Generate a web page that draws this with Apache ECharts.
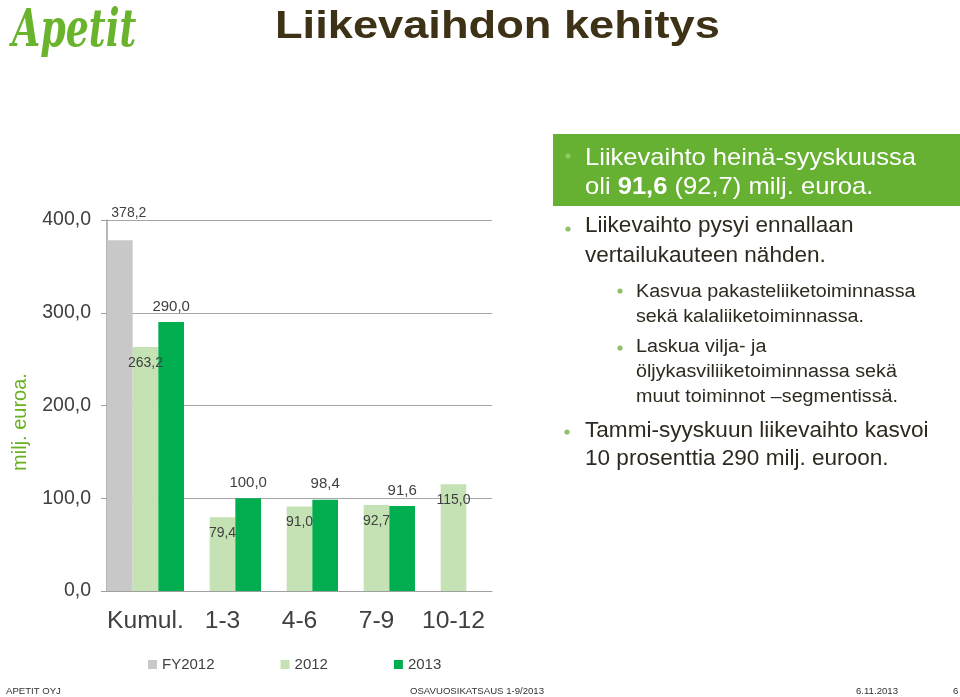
<!DOCTYPE html>
<html><head><meta charset="utf-8">
<script src="https://cdn.jsdelivr.net/npm/echarts@6/dist/echarts.min.js"></script>
<style>html,body{margin:0;padding:0;background:#fff}#c{width:960px;height:697px}</style>
</head><body><div id="c"></div>
<script>
// ---- data ----
const categories = ['Kumul.', '1-3', '4-6', '7-9', '10-12'];
const seriesNames = ['FY2012', '2012', '2013'];
const fy2012 = [378.2, null, null, null, null];
const y2012 = [263.2, 79.4, 91.0, 92.7, 115.0];
const y2013 = [290.0, 100.0, 98.4, 91.6, null];
const yMin = 0, yMax = 400, yStep = 100;

const titleText = 'Liikevaihdon kehitys';
const axisName = 'milj. euroa.';
const boxLines = ['Liikevaihto heinä-syyskuussa', ['oli ', '91,6', ' (92,7) milj. euroa.']];
const bullet2 = ['Liikevaihto pysyi ennallaan', 'vertailukauteen nähden.'];
const sub1 = ['Kasvua pakasteliiketoiminnassa', 'sekä kalaliiketoiminnassa.'];
const sub2 = ['Laskua vilja- ja', 'öljykasviliiketoiminnassa sekä', 'muut toiminnot –segmentissä.'];
const bullet3 = ['Tammi-syyskuun liikevaihto kasvoi', '10 prosenttia 290 milj. euroon.'];
const footer = ['APETIT OYJ', 'OSAVUOSIKATSAUS 1-9/2013', '6.11.2013', '6'];

// ---- styles ----
const F = 'Liberation Sans, Arial, sans-serif';
const C_GRAY = '#c8c8c8', C_LIGHT = '#c4e2b3', C_GREEN = '#00ae50';
const C_TXT = '#2e2a1f', C_LBL = '#404040';
const fmt = v => (v == null ? '' : Number(v).toFixed(1).replace('.', ','));

const chart = echarts.init(document.getElementById('c'));

function txt(x, y, text, size, opt) {
  opt = opt || {};
  return {
    type: 'text', x: x, y: y, scaleX: opt.sx || 1, rotation: opt.rot || 0,
    style: {
      text: text, fontFamily: opt.font || F, fontSize: size, fontWeight: opt.bold ? 'bold' : 'normal',
      fontStyle: opt.italic ? 'italic' : 'normal',
      fill: opt.color || C_TXT, align: opt.align || 'left', verticalAlign: 'middle',
      rich: opt.rich
    }
  };
}
function dot(x, y, color) {
  return { type: 'circle', shape: { cx: x, cy: y, r: 2.6 }, style: { fill: color || '#8dc26a' } };
}

const graphics = [];
// logo
graphics.push(txt(12, 32, 'Apetit', 52, { italic: true, bold: true, color: '#6ab42d', sx: 0.7, font: 'DejaVu Serif, Liberation Serif, serif' }));
// title
graphics.push(txt(275, 28, titleText, 38, { bold: true, color: '#3e3216', sx: 1.19 }));
// y-axis name
graphics.push(txt(20, 422, axisName, 20, { color: '#6ab023', align: 'center', rot: Math.PI / 2 }));
// green box
graphics.push({ type: 'rect', shape: { x: 553, y: 134, width: 407, height: 72 }, style: { fill: '#66b032' } });
graphics.push(dot(568, 156, '#8ccc5c'));
const BS = 24, BX = 1.065;
graphics.push(txt(585, 158.5, boxLines[0], BS, { color: '#fff', sx: BX }));
graphics.push(txt(585, 187, '{n|' + boxLines[1][0] + '}{b|' + boxLines[1][1] + '}{n|' + boxLines[1][2] + '}', BS, {
  color: '#fff', sx: BX,
  rich: { n: { fontFamily: F, fontSize: BS, fill: '#fff' }, b: { fontFamily: F, fontSize: BS, fontWeight: 'bold', fill: '#fff' } }
}));
// bullet 2
const MS = 21.2, MX = 1.065;
graphics.push(dot(568, 229));
bullet2.forEach((s, i) => graphics.push(txt(585, 225.7 + i * 30, s, MS, { sx: MX })));
// sub bullets
const SS = 18.8, SX = 1.05;
graphics.push(dot(620, 291));
sub1.forEach((s, i) => graphics.push(txt(636, 292 + i * 25, s, SS, { sx: SX })));
graphics.push(dot(620, 348));
sub2.forEach((s, i) => graphics.push(txt(636, 347 + i * 25, s, SS, { sx: SX })));
// bullet 3
graphics.push(dot(567, 432));
bullet3.forEach((s, i) => graphics.push(txt(585, 431 + i * 28.5, s, MS, { sx: MX })));
// footer
graphics.push(txt(6, 691, footer[0], 9.6, { color: '#333' }));
graphics.push(txt(410, 691, footer[1], 9.6, { color: '#333' }));
graphics.push(txt(856, 691, footer[2], 9.6, { color: '#333' }));
graphics.push(txt(953, 691, footer[3], 9.6, { color: '#333' }));

const lblBase = { show: true, fontFamily: F, color: C_LBL, formatter: p => fmt(p.value) };

chart.setOption({
  animation: false,
  backgroundColor: '#fff',
  grid: { left: 107, right: 468, top: 220, bottom: 106, containLabel: false },
  legend: {
    data: seriesNames, left: 143, top: 652, icon: 'rect', itemWidth: 9, itemHeight: 9, itemGap: 66,
    textStyle: { fontFamily: F, fontSize: 15, color: C_LBL }
  },
  xAxis: {
    type: 'category', data: categories,
    axisLine: { lineStyle: { color: '#a0a0a0', width: 1 } },
    axisTick: { show: false },
    axisLabel: { interval: 0, fontFamily: F, fontSize: 24.7, color: C_LBL, margin: 18 }
  },
  yAxis: {
    type: 'value', min: yMin, max: yMax, interval: yStep,
    axisLine: { show: true, lineStyle: { color: '#a0a0a0', width: 1.5 } },
    axisTick: { show: true, length: 6, lineStyle: { color: '#a0a0a0' } },
    splitLine: { lineStyle: { color: '#a6a6a6', width: 1 } },
    axisLabel: { fontFamily: F, fontSize: 19.5, color: C_LBL, margin: 16, formatter: v => fmt(v) }
  },
  series: [
    {
      name: seriesNames[0], type: 'bar', data: fy2012, barGap: '0%', barCategoryGap: '0%',
      itemStyle: { color: C_GRAY },
      label: Object.assign({}, lblBase, { position: 'top', distance: 20, fontSize: 14, offset: [9, 0] })
    },
    {
      name: seriesNames[1], type: 'bar', data: y2012, barGap: '0%', barCategoryGap: '0%',
      itemStyle: { color: C_LIGHT },
      label: Object.assign({}, lblBase, { position: 'insideTop', distance: 9, fontSize: 14 })
    },
    {
      name: seriesNames[2], type: 'bar', data: y2013, barGap: '0%', barCategoryGap: '0%',
      itemStyle: { color: C_GREEN },
      label: Object.assign({}, lblBase, { position: 'top', distance: 8, fontSize: 15 })
    }
  ],
  graphic: { elements: graphics }
});
</script></body></html>
